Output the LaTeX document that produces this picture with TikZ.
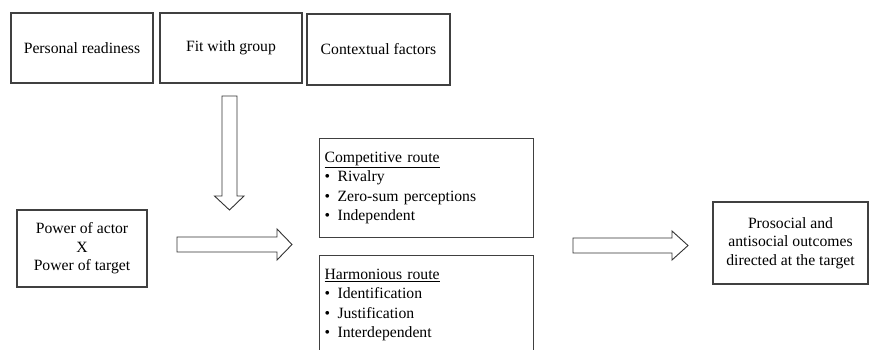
\documentclass[tikz,border=0pt]{standalone}
\usepackage{fontspec}
\setmainfont{Liberation Serif}
\newcommand{\itembullet}{\makebox[13pt][l]{\textbullet}}
\begin{document}
\begin{tikzpicture}[x=1pt,y=-1pt,
		box/.style={draw=black!75,line width=1.1pt,inner sep=0pt,
			align=center,font=\fontsize{15.7}{18.5}\selectfont},
		routebox/.style={draw=black!75,line width=1.1pt,anchor=north west,
			text width=204pt,inner xsep=5pt,inner ysep=13.5pt,align=left,
			font=\fontsize{15.7}{19.5}\selectfont},
		blockarrow/.style={draw=black!80,line width=0.9pt,fill=white,
			line join=miter}]
	\clip (0,0) rectangle (869,349);
	% top row
	\node[box,minimum width=142pt,minimum height=70pt] (readiness)
		at (82,48) {Personal readiness};
	\node[box,minimum width=142pt,minimum height=70pt] (fit)
		at (231,48) {Fit with group};
	\node[box,minimum width=143pt,minimum height=71pt] (context)
		at (378.5,49.5) {Contextual factors};
	% left and right
	\node[box,minimum width=130pt,minimum height=77pt] (power)
		at (82,248.5) {Power of actor\\X\\Power of target};
	\node[box,minimum width=155pt,minimum height=82pt] (outcomes)
		at (790.5,243) {Prosocial and\\antisocial outcomes\\directed at the target};
	% the two routes
	\node[routebox,minimum height=99pt] (competitive) at (319,138)
		{\underline{Competitive route}\\
		\itembullet Rivalry\\
		\itembullet Zero-sum perceptions\\
		\itembullet Independent};
	\node[routebox] (harmonious) at (319,255)
		{\underline{Harmonious route}\\
		\itembullet Identification\\
		\itembullet Justification\\
		\itembullet Interdependent};
	% block arrows
	\coordinate (downstart) at (222,96);
	\coordinate (leftstart) at (177,237);
	\coordinate (rightstart) at (573,238);
	\draw[blockarrow] (downstart) -- ++(15,0) -- ++(0,100) -- ++(7,0)
		-- ++(-14.5,14) -- ++(-15,-14) -- ++(7.5,0) -- cycle;
	\draw[blockarrow] (leftstart) -- ++(100,0) -- ++(0,-8) -- ++(15,15.5)
		-- ++(-15,15.5) -- ++(0,-8) -- ++(-100,0) -- cycle;
	\draw[blockarrow] (rightstart) -- ++(99,0) -- ++(0,-7) -- ++(16,14.5)
		-- ++(-16,14.5) -- ++(0,-7) -- ++(-99,0) -- cycle;
\end{tikzpicture}
\end{document}
